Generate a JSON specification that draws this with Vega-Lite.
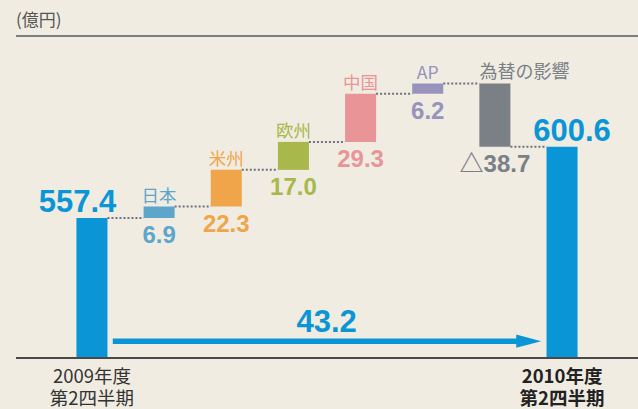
{
  "$schema": "https://vega.github.io/schema/vega-lite/v6.json",
  "width": 622,
  "height": 322,
  "autosize": {"type": "none"},
  "padding": {"left": 16, "top": 36, "right": 0, "bottom": 51},
  "background": "#f0ece2",
  "view": {"stroke": null},
  "title": {"text": "(億円)", "anchor": "start", "frame": "group", "offset": 5, "fontSize": 17, "font": "Noto Sans CJK JP", "fontWeight": "normal", "color": "#555555"},
  "data": {
    "values": [
      {"cat": "a", "kind": "total", "name": "2009年度\n第2四半期", "lo": 0, "hi": 557.4, "end": 557.4, "next": "jp", "label": "557.4"},
      {"cat": "jp", "kind": "change", "name": "日本", "lo": 557.4, "hi": 564.3, "end": 564.3, "next": "us", "label": "6.9"},
      {"cat": "us", "kind": "change", "name": "米州", "lo": 564.3, "hi": 586.6, "end": 586.6, "next": "eu", "label": "22.3"},
      {"cat": "eu", "kind": "change", "name": "欧州", "lo": 586.6, "hi": 603.6, "end": 603.6, "next": "cn", "label": "17.0"},
      {"cat": "cn", "kind": "change", "name": "中国", "lo": 603.6, "hi": 632.9, "end": 632.9, "next": "ap", "label": "29.3"},
      {"cat": "ap", "kind": "change", "name": "AP", "lo": 632.9, "hi": 639.1, "end": 639.1, "next": "fx", "label": "6.2"},
      {"cat": "fx", "kind": "change", "name": "為替の影響", "lo": 600.6, "hi": 639.1, "end": 600.6, "next": "b", "label": "△38.7"},
      {"cat": "b", "kind": "total", "name": "2010年度\n第2四半期", "lo": 0, "hi": 600.6, "end": 600.6, "next": "", "label": "600.6"}
    ]
  },
  "layer": [
    {
      "mark": {"type": "bar", "clip": true},
      "encoding": {
        "x": {"field": "cat", "type": "nominal", "scale": {"type": "band", "domain": ["a", "jp", "us", "eu", "cn", "ap", "fx", "b"], "paddingInner": 0.538, "paddingOuter": 0.9}, "axis": null},
        "y": {"field": "lo", "type": "quantitative", "scale": {"domain": [472.2, 668], "zero": false, "nice": false}, "axis": null},
        "y2": {"field": "hi"},
        "color": {"field": "cat", "type": "nominal", "scale": {"domain": ["a", "jp", "us", "eu", "cn", "ap", "fx", "b"], "range": ["#0a96d6", "#5ea6c9", "#f0a54b", "#a8b84a", "#e99597", "#9793bd", "#7b7f86", "#0a96d6"]}, "legend": null}
      }
    },
    {
      "transform": [{"filter": "datum.next != ''"}],
      "mark": {"type": "rule", "stroke": "#6f737b", "strokeWidth": 2, "strokeDash": [2, 2]},
      "encoding": {
        "x": {"field": "cat", "type": "nominal", "bandPosition": 1},
        "x2": {"field": "next", "bandPosition": 0},
        "y": {"field": "end", "type": "quantitative"}
      }
    },
    {
      "transform": [{"filter": "datum.kind == 'change' && datum.cat != 'fx'"}],
      "mark": {"type": "text", "font": "Noto Sans CJK JP", "fontSize": 17.5, "baseline": "alphabetic", "align": "center", "dy": -5},
      "encoding": {
        "x": {"field": "cat", "type": "nominal"},
        "y": {"field": "hi", "type": "quantitative"},
        "text": {"field": "name"},
        "color": {"field": "cat", "type": "nominal"}
      }
    },
    {
      "transform": [{"filter": "datum.cat == 'fx'"}],
      "mark": {"type": "text", "font": "Noto Sans CJK JP", "fontSize": 18, "baseline": "alphabetic", "align": "left", "dy": -6},
      "encoding": {
        "x": {"field": "cat", "type": "nominal", "bandPosition": 0},
        "y": {"field": "hi", "type": "quantitative"},
        "text": {"field": "name"},
        "color": {"field": "cat", "type": "nominal"}
      }
    },
    {
      "transform": [{"filter": "datum.kind == 'change'"}],
      "mark": {"type": "text", "font": "Liberation Sans, Noto Sans CJK JP", "fontSize": 24, "fontWeight": "bold", "baseline": "alphabetic", "align": "center", "dy": 25},
      "encoding": {
        "x": {"field": "cat", "type": "nominal"},
        "y": {"field": "lo", "type": "quantitative"},
        "text": {"field": "label"},
        "color": {"field": "cat", "type": "nominal"}
      }
    },
    {
      "transform": [{"filter": "datum.cat == 'a'"}],
      "mark": {"type": "text", "font": "Liberation Sans", "fontSize": 31, "fontWeight": "bold", "baseline": "alphabetic", "align": "center", "dy": -6, "dx": -14.5},
      "encoding": {
        "x": {"field": "cat", "type": "nominal"},
        "y": {"field": "hi", "type": "quantitative"},
        "text": {"field": "label"},
        "color": {"field": "cat", "type": "nominal"}
      }
    },
    {
      "transform": [{"filter": "datum.cat == 'b'"}],
      "mark": {"type": "text", "font": "Liberation Sans", "fontSize": 31, "fontWeight": "bold", "baseline": "alphabetic", "align": "center", "dy": -6, "dx": 10},
      "encoding": {
        "x": {"field": "cat", "type": "nominal"},
        "y": {"field": "hi", "type": "quantitative"},
        "text": {"field": "label"},
        "color": {"field": "cat", "type": "nominal"}
      }
    },
    {
      "transform": [{"filter": "datum.cat == 'a'"}],
      "mark": {"type": "text", "font": "Noto Sans CJK JP", "fontSize": 18.5, "baseline": "top", "align": "center", "dy": 10, "lineBreak": "\n", "lineHeight": 22, "color": "#333333"},
      "encoding": {
        "x": {"field": "cat", "type": "nominal"},
        "y": {"datum": 472.2, "type": "quantitative"},
        "text": {"field": "name"}
      }
    },
    {
      "transform": [{"filter": "datum.cat == 'b'"}],
      "mark": {"type": "text", "font": "Noto Sans CJK JP", "fontSize": 18.5, "fontWeight": "bold", "baseline": "top", "align": "center", "dy": 10, "lineBreak": "\n", "lineHeight": 22, "color": "#222222"},
      "encoding": {
        "x": {"field": "cat", "type": "nominal"},
        "y": {"datum": 472.2, "type": "quantitative"},
        "text": {"field": "name"}
      }
    },
    {
      "mark": {"type": "rule", "stroke": "#4a4a4a", "strokeWidth": 1.5},
      "encoding": {"y": {"datum": 472.2, "type": "quantitative"}}
    },
    {
      "mark": {"type": "rule", "stroke": "#7b8189", "strokeWidth": 1.5},
      "encoding": {"y": {"datum": 668, "type": "quantitative"}}
    },
    {
      "data": {"values": [{"from": "a", "to": "b", "level": 482.4, "label": "43.2"}]},
      "mark": {"type": "rule", "stroke": "#0a96d6", "strokeWidth": 5.5},
      "encoding": {
        "x": {"field": "from", "type": "nominal", "bandPosition": 1.171},
        "x2": {"field": "to", "bandPosition": -0.95},
        "y": {"field": "level", "type": "quantitative"}
      }
    },
    {
      "data": {"values": [{"from": "a", "to": "b", "level": 482.4, "label": "43.2"}]},
      "mark": {"type": "point", "shape": "M0,0L-1.667,-0.443L-1.667,0.443Z", "size": 900, "filled": true, "color": "#0a96d6", "opacity": 1, "strokeWidth": 0},
      "encoding": {
        "x": {"field": "to", "type": "nominal", "bandPosition": -0.171},
        "y": {"field": "level", "type": "quantitative"}
      }
    },
    {
      "data": {"values": [{"from": "a", "to": "b", "level": 482.4, "label": "43.2"}]},
      "mark": {"type": "text", "font": "Liberation Sans", "fontSize": 31, "fontWeight": "bold", "baseline": "alphabetic", "align": "center", "dy": -9.6, "color": "#0a96d6"},
      "encoding": {
        "x": {"field": "from", "type": "nominal", "bandPosition": 8.065},
        "y": {"field": "level", "type": "quantitative"},
        "text": {"field": "label"}
      }
    }
  ]
}
